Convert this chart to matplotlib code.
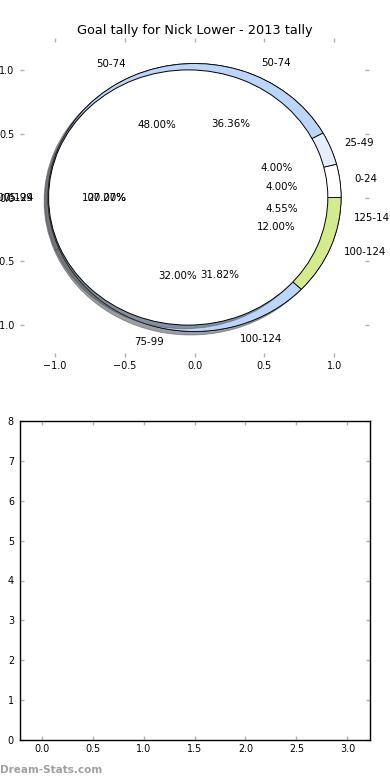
import matplotlib
matplotlib.use('Agg')
import matplotlib.pyplot as plt
import numpy as np

# ---------------- data ----------------
categories = ['0-24', '25-49', '50-74', '75-99', '100-124', '125-149']
goals_2013 = [1, 1, 12, 8, 3, 0]          # 4%, 4%, 48%, 32%, 12%
goals_other = [0, 0, 8, 6, 7, 1]          # 36.36%, 27.27%, 31.82%, 4.55%
goals_single = [0, 0, 0, 0, 1, 0]         # 100%
colors_2013 = ['#ffffff', '#e6eefc', '#bcd5fb', '#bcd5fb', '#d3eb8c', '#c8c8c8']
colors_other = ['#ffffff', '#e6eefc', '#bcd5fb', '#bcd5fb', '#d3eb8c', '#c8c8c8']
colors_single = ['#ffffff'] * 6

title = 'Goal tally for Nick Lower - 2013 tally'
pie_ticks = [-1.0, -0.5, 0.0, 0.5, 1.0]
bar_xticks = [0.0, 0.5, 1.0, 1.5, 2.0, 2.5, 3.0]
bar_yticks = [0, 1, 2, 3, 4, 5, 6, 7, 8]
watermark = 'Dream-Stats.com'


def nonzero(values, labels, cols):
    keep = [i for i, v in enumerate(values) if v > 0]
    return ([values[i] for i in keep], [labels[i] for i in keep],
            [cols[i] for i in keep])


fig = plt.figure(figsize=(3.9, 7.8), dpi=100)
fig.patch.set_facecolor('white')

TICK_GRAY = '#b0b0b0'
TXT = 7.4

# ---------------- top: overlaid pies ----------------
ax = fig.add_axes([20 / 390, 1 - 357 / 780, 349 / 390, 319 / 780])

v, l, c = nonzero(goals_other, categories, colors_other)
ax.pie(v, labels=l, colors=c, autopct='%.2f%%', radius=1.05,
       wedgeprops=dict(edgecolor='black', linewidth=0.6, zorder=1),
       textprops=dict(fontsize=TXT))

v, l, c = nonzero(goals_2013, categories, colors_2013)
ax.pie(v, labels=l, colors=c, autopct='%.2f%%', radius=1.05, shadow=True,
       wedgeprops=dict(edgecolor='black', linewidth=0.6, zorder=1.5),
       textprops=dict(fontsize=TXT))

v, l, c = nonzero(goals_single, categories, colors_single)
ax.pie(v, labels=l, colors=c, autopct='%.2f%%', radius=1.0,
       center=(-0.045, 0.0), shadow=True,
       wedgeprops=dict(edgecolor='black', linewidth=0.7, zorder=2),
       textprops=dict(fontsize=TXT))

ax.set_aspect('auto')
ax.set_frame_on(False)
ax.set_xlim(-1.25, 1.25)
ax.set_ylim(-1.25, 1.25)
ax.set_xticks(pie_ticks)
ax.set_yticks(pie_ticks)
ax.tick_params(direction='in', length=3, width=1, color=TICK_GRAY,
               labelsize=6.9, top=True, right=True)
ax.tick_params(axis='x', pad=3)
ax.tick_params(axis='y', pad=4)
ax.set_title(title, fontsize=9.3, pad=3)

# ---------------- bottom: empty axes ----------------
ax2 = fig.add_axes([19.5 / 390, 1 - 740 / 780, 350 / 390, 319 / 780])
ax2.set_xlim(-0.216, 3.216)
ax2.set_ylim(0, 8)
ax2.set_xticks(bar_xticks)
ax2.set_yticks(bar_yticks)
ax2.tick_params(direction='in', length=3, width=1, color=TICK_GRAY,
                labelsize=6.9, top=True, right=True)
ax2.tick_params(axis='x', pad=3)
ax2.tick_params(axis='y', pad=4)
for s in ax2.spines.values():
    s.set_linewidth(1.0)
    s.set_color('black')

fig.text(0.0, 10 / 780, watermark, fontsize=7.5, fontweight='bold',
         color='#a0a0a0', ha='left', va='center')

fig.savefig('out.png', dpi=100)
